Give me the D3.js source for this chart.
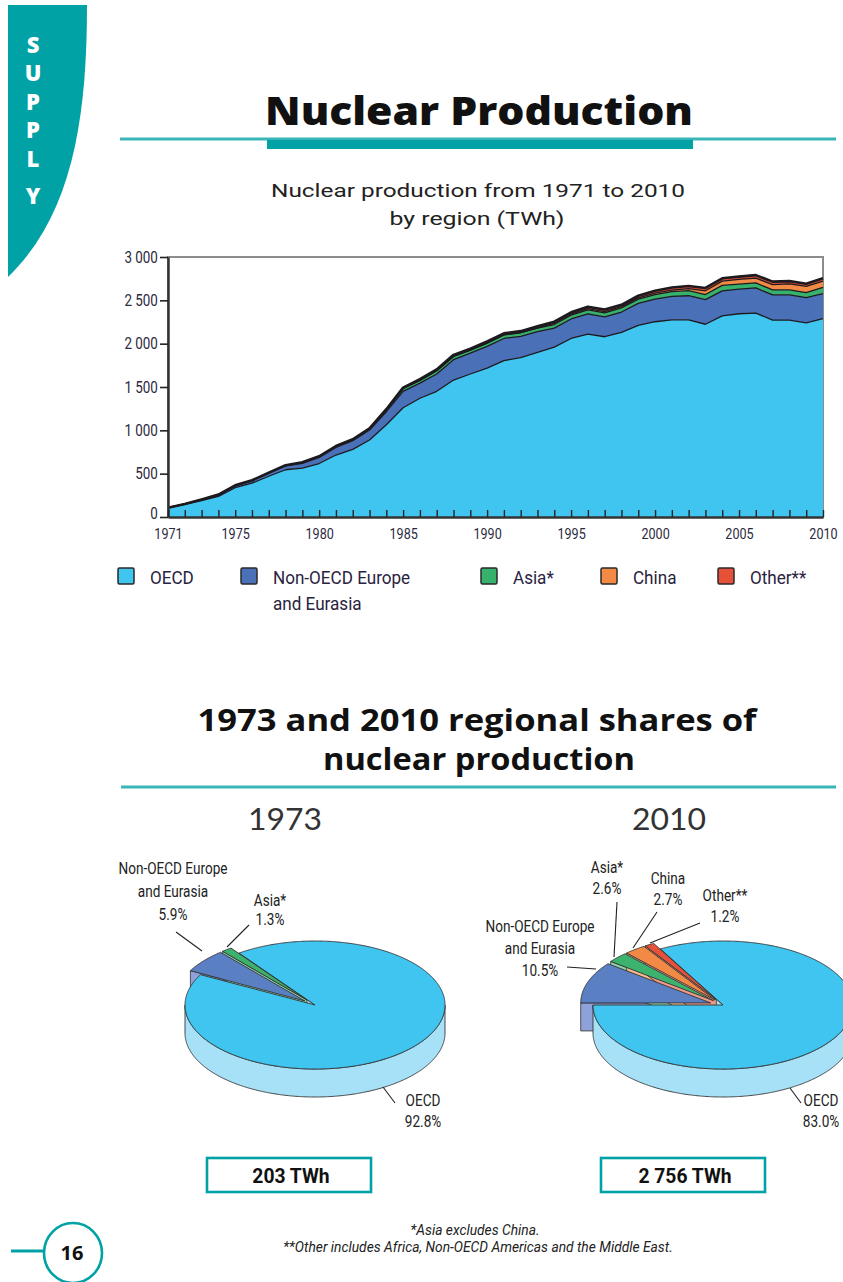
<!DOCTYPE html>
<html>
<head>
<meta charset="utf-8">
<script src="https://cdn.jsdelivr.net/npm/d3@7/dist/d3.min.js"></script>
<style>
  html, body { margin: 0; padding: 0; background: #ffffff; }
  svg { display: block; }
</style>
</head>
<body>
<svg id="page" width="843" height="1282"></svg>
<script>
// ---------- data ----------
const years = [1971,1972,1973,1974,1975,1976,1977,1978,1979,1980,
               1981,1982,1983,1984,1985,1986,1987,1988,1989,1990,
               1991,1992,1993,1994,1995,1996,1997,1998,1999,2000,
               2001,2002,2003,2004,2005,2006,2007,2008,2009,2010];

// TWh by region
const oecd = [104,145,188,238,338,390,470,545,565,617,
              715,780,888,1065,1260,1370,1450,1580,1650,1718,
              1805,1840,1900,1960,2060,2110,2080,2130,2210,2253,
              2275,2275,2224,2320,2345,2353,2272,2272,2240,2288];
const nonOecdEurope = [3,5,12,16,22,28,36,44,55,70,
                       88,100,115,150,190,175,200,235,240,250,
                       255,245,240,220,225,235,230,235,255,262,
                       270,278,285,290,285,290,290,292,290,289];
const asia = [0.3,1,2.6,2.5,2.5,3,3,6,9,11,
              13,14,15,23,33,32,38,37,35,38,
              41,41,40,41,43,45,46,48,49,52,
              55,58,58,62,58,58,58,57,60,72];
const china = [0,0,0,0,0,0,0,0,0,0,
               0,0,0,0,0,0,0,0,0,0,
               0,0.5,2.5,14,13,14,14,14,15,17,
               17.5,25,43,50,53,55,62,68,70,74];
const other = [0,0,0,1.7,2.5,2.5,2.5,3,2.8,2.2,
               2.6,2.5,4,6,10,13,14,19,18,19,
               18,18,19,19,21,23,25,21,24,26,
               30,30,33,32,33,35,34,33,31,33];

const seriesKeys = ["oecd", "nonOecdEurope", "asia", "china", "other"];
const legendLabels = [["OECD"], ["Non-OECD Europe", "and Eurasia"], ["Asia*"], ["China"], ["Other**"]];

const yTicks = [0, 500, 1000, 1500, 2000, 2500, 3000];
const yTickLabels = ["0", "500", "1 000", "1 500", "2 000", "2 500", "3 000"];
const xTickLabels = [1971, 1975, 1980, 1985, 1990, 1995, 2000, 2005, 2010];

// regional shares (%)
const pieYears = ["1973", "2010"];
const shares1973 = [92.8, 5.9, 1.3, 0, 0];
const shares2010 = [83.0, 10.5, 2.6, 2.7, 1.2];
const pieTotals = ["203 TWh", "2 756 TWh"];
const pieNames = [["OECD"], ["Non-OECD Europe", "and Eurasia"], ["Asia*"], ["China"], ["Other**"]];

// ---------- styles ----------
const TEAL = "#00a2a6";
const TEAL_LIGHT = "#3ab6b8";
const areaColors = ["#3fc5f0", "#4a70b8", "#37b26c", "#f28a45", "#e6513a"];
const pieTop = ["#3fc5f0", "#5a7fc3", "#3bb36e", "#f28a45", "#e6513a"];
const pieSide = ["#a6e1f7", "#8ea1d8", "#8fd3a9", "#f7b98e", "#f09a88"];
const INK = "#231f2e";
const SANS = "'Open Sans', 'Noto Sans', sans-serif";
const GEO = "Roboto, 'Noto Sans', sans-serif";

const svg = d3.select("#page");

// condensed-looking text: horizontally scaled glyphs
function ctext(parent, x, y, str, o = {}) {
  const sx = o.sx ?? 0.84;
  return parent.append("text")
    .attr("transform", `translate(${x},${y}) scale(${sx},1)`)
    .attr("text-anchor", o.anchor || "middle")
    .attr("font-family", o.family || GEO)
    .attr("font-size", o.size || 16)
    .attr("font-weight", o.weight || 400)
    .attr("font-style", o.style || "normal")
    .attr("fill", o.fill || INK)
    .text(str);
}

// text stretched/shrunk to a fixed width
function fitText(parent, x, y, str, width, o = {}) {
  return parent.append("text")
    .attr("x", x).attr("y", y)
    .attr("text-anchor", o.anchor || "middle")
    .attr("font-family", o.family || SANS)
    .attr("font-size", o.size || 20)
    .attr("font-weight", o.weight || 400)
    .attr("font-style", o.style || "normal")
    .attr("fill", o.fill || INK)
    .attr("textLength", width).attr("lengthAdjust", "spacingAndGlyphs")
    .text(str);
}

// ---------- side tab ----------
svg.append("path")
  .attr("d", "M8,5 H87 C87,120 72,215 8,277 Z")
  .attr("fill", TEAL);
const tabLetters = ["S", "U", "P", "P", "L", "Y"];
const tabY = [53, 81, 110, 138, 167, 204];
tabLetters.forEach((ch, i) => {
  svg.append("text").attr("x", 33).attr("y", tabY[i])
    .attr("text-anchor", "middle")
    .attr("font-family", SANS).attr("font-weight", 800).attr("font-size", 22)
    .attr("fill", "#ffffff").text(ch);
});

// ---------- page title ----------
fitText(svg, 479, 125, "Nuclear Production", 428, { size: 38, weight: 800, fill: "#111" });
svg.append("line").attr("x1", 120).attr("x2", 836).attr("y1", 139).attr("y2", 139)
  .attr("stroke", TEAL_LIGHT).attr("stroke-width", 3);
svg.append("rect").attr("x", 267).attr("y", 140).attr("width", 426).attr("height", 9).attr("fill", TEAL);

fitText(svg, 478, 197, "Nuclear production from 1971 to 2010", 414, { size: 19, fill: "#222", family: GEO });
fitText(svg, 477, 225, "by region (TWh)", 175, { size: 19, fill: "#222", family: GEO });

// ---------- stacked area chart ----------
const plot = { left: 168, right: 823, top: 257, bottom: 517 };
const x = d3.scaleLinear().domain([years[0], years[years.length - 1]]).range([plot.left, plot.right]);
const y = d3.scaleLinear().domain([0, 3000]).range([plot.bottom, plot.top]);

const rows = years.map((yr, i) => ({
  year: yr, oecd: oecd[i], nonOecdEurope: nonOecdEurope[i], asia: asia[i], china: china[i], other: other[i]
}));
const stacked = d3.stack().keys(seriesKeys)(rows);

const chart = svg.append("g");
// frame
chart.append("rect")
  .attr("x", plot.left).attr("y", plot.top)
  .attr("width", plot.right - plot.left).attr("height", plot.bottom - plot.top)
  .attr("fill", "none").attr("stroke", "#8c8c8c").attr("stroke-width", 2);

const area = d3.area().x(d => x(d.data.year)).y0(d => y(d[0])).y1(d => y(d[1]));
const topLine = d3.line().x(d => x(d.data.year)).y(d => y(d[1]));

chart.selectAll("path.layer").data(stacked).join("path")
  .attr("class", "layer")
  .attr("d", area)
  .attr("fill", (d, i) => areaColors[i]);
chart.selectAll("path.edge").data(stacked).join("path")
  .attr("class", "edge")
  .attr("d", topLine)
  .attr("fill", "none")
  .attr("stroke", "#1d1a1f")
  .attr("stroke-width", (d, i) => i === stacked.length - 1 ? 2.6 : 1.3)
  .attr("stroke-linejoin", "round");

// y axis
const yAxis = chart.append("g").attr("transform", `translate(${plot.left},0)`)
  .call(d3.axisLeft(y).tickValues(yTicks).tickFormat((d, i) => yTickLabels[i]).tickSize(8).tickSizeOuter(0).tickPadding(4));
yAxis.select(".domain").attr("stroke", "#333").attr("stroke-width", 2.5);
yAxis.selectAll(".tick line").attr("stroke", "#222").attr("stroke-width", 1.6);
yAxis.selectAll(".tick text")
  .attr("font-family", GEO).attr("font-size", 16).attr("fill", "#2c2a3e")
  .attr("transform", "scale(0.84,1)");
// keep the zero label clear of the first year label
yAxis.selectAll(".tick").filter(d => d === 0).select("text").attr("dy", "0.12em");

// x axis (ticks point into the plot)
const xAxis = chart.append("g").attr("transform", `translate(0,${plot.bottom})`)
  .call(d3.axisBottom(x).tickValues(years)
    .tickFormat(d => xTickLabels.includes(d) ? d : "")
    .tickSize(-7).tickSizeOuter(0).tickPadding(11));
xAxis.select(".domain").attr("stroke", "#333").attr("stroke-width", 2.5);
xAxis.selectAll(".tick line").attr("stroke", "#222").attr("stroke-width", 1.4);
xAxis.selectAll(".tick text")
  .attr("font-family", GEO).attr("font-size", 15).attr("fill", "#2c2a3e")
  .attr("transform", "scale(0.84,1)");

// legend
const legendX = [118, 241, 481, 601, 718];
const legend = svg.append("g");
seriesKeys.forEach((k, i) => {
  legend.append("rect").attr("x", legendX[i]).attr("y", 568).attr("width", 16).attr("height", 16)
    .attr("rx", 1.5).attr("fill", areaColors[i]).attr("stroke", "#2a2a2a").attr("stroke-width", 1.5);
  legendLabels[i].forEach((ln, j) => {
    ctext(legend, legendX[i] + 32, 584 + j * 26, ln, { size: 19, sx: 0.9, anchor: "start", fill: "#2a2340" });
  });
});

// ---------- shares section ----------
fitText(svg, 477, 731, "1973 and 2010 regional shares of", 559, { size: 30, weight: 700, fill: "#111" });
fitText(svg, 479, 770, "nuclear production", 312, { size: 30, weight: 700, fill: "#111" });
svg.append("line").attr("x1", 121).attr("x2", 836).attr("y1", 787).attr("y2", 787)
  .attr("stroke", TEAL_LIGHT).attr("stroke-width", 3);

const pieCenters = [315, 723];
const pieStart = [324.2, 331.2];
pieYears.forEach((t, i) => {
  fitText(svg, [285, 669][i], 830, t, 74, { size: 30, weight: 400, fill: "#333", family: "Lato, 'Open Sans', sans-serif" });
});

function drawPie(g, shares, opt) {
  const { cx, cy, rx, ry, depth, start, explode } = opt;
  const a0 = start * Math.PI / 180;
  const arcs = d3.pie().sort(null).value(d => d.v).startAngle(a0).endAngle(a0 + 2 * Math.PI)(
    shares.map((v, i) => ({ v, i }))
  ).filter(a => a.data.v > 0);

  arcs.forEach(a => {
    const mid = (a.startAngle + a.endAngle) / 2;
    const d = a.data.i === 0 ? 0 : explode;
    a.ox = d * Math.sin(mid);
    a.oy = -d * Math.cos(mid) * ry / rx;
    const n = Math.max(2, Math.ceil((a.endAngle - a.startAngle) / (Math.PI / 360)));
    a.samples = d3.range(n + 1).map(j => a.startAngle + (a.endAngle - a.startAngle) * j / n);
  });
  const P = (a, s, dz) => [cx + a.ox + rx * Math.sin(s), cy + a.oy - ry * Math.cos(s) + dz];
  const C = (a, dz) => [cx + a.ox, cy + a.oy + dz];
  const poly = pts => "M" + pts.map(p => p[0].toFixed(2) + "," + p[1].toFixed(2)).join("L") + "Z";

  // radial side faces
  arcs.forEach(a => {
    const faces = [];
    if (Math.sin(a.startAngle) < 0) faces.push(a.startAngle);
    if (Math.sin(a.endAngle) > 0) faces.push(a.endAngle);
    faces.forEach(s => {
      g.append("path")
        .attr("d", poly([C(a, 0), P(a, s, 0), P(a, s, depth), C(a, depth)]))
        .attr("fill", pieSide[a.data.i]).attr("stroke", "#333").attr("stroke-width", 0.8)
        .attr("stroke-linejoin", "round");
    });
  });
  // outer walls (front half only)
  arcs.forEach(a => {
    let run = [];
    const flush = () => {
      if (run.length > 1) {
        const topPts = run.map(s => P(a, s, 0));
        const botPts = run.slice().reverse().map(s => P(a, s, depth));
        g.append("path").attr("d", poly(topPts.concat(botPts)))
          .attr("fill", pieSide[a.data.i]).attr("stroke", "#333").attr("stroke-width", 0.9)
          .attr("stroke-linejoin", "round");
      }
      run = [];
    };
    a.samples.forEach(s => { if (Math.cos(s) <= 0.001) run.push(s); else flush(); });
    flush();
  });
  // top faces
  arcs.forEach(a => {
    g.append("path")
      .attr("d", poly([C(a, 0)].concat(a.samples.map(s => P(a, s, 0)))))
      .attr("fill", pieTop[a.data.i]).attr("stroke", "#333").attr("stroke-width", 0.9)
      .attr("stroke-linejoin", "round");
  });
  return arcs;
}

const pies = svg.append("g");
const pieOpts = { cy: 1005, rx: 130, ry: 64, depth: 28, explode: 13 };
drawPie(pies, shares1973, Object.assign({ cx: pieCenters[0], start: pieStart[0] }, pieOpts));
drawPie(pies, shares2010, Object.assign({ cx: pieCenters[1], start: pieStart[1] }, pieOpts));

// pie labels with leader lines
const fmtPct = v => v.toFixed(1) + "%";
const labelLayout = [
  // 1973
  { pie: 0, idx: 1, x: 173, y: 874, lh: 23, leader: [[176, 932], [202, 951]] },
  { pie: 0, idx: 2, x: 270, y: 906, lh: 19, leader: [[249, 925], [227, 947]] },
  { pie: 0, idx: 0, x: 423, y: 1106, lh: 21, leader: [[395, 1103], [383, 1087]] },
  // 2010
  { pie: 1, idx: 1, x: 540, y: 932, lh: 22, leader: [[567, 967], [596, 969]] },
  { pie: 1, idx: 2, x: 607, y: 873, lh: 21, leader: [[617, 902], [614, 957]] },
  { pie: 1, idx: 3, x: 668, y: 884, lh: 21, leader: [[657, 912], [633, 948]] },
  { pie: 1, idx: 4, x: 725, y: 901, lh: 21, leader: [[700, 923], [650, 943]] },
  { pie: 1, idx: 0, x: 821, y: 1106, lh: 21, leader: [[801, 1103], [790, 1088]] }
];
const shareSets = [shares1973, shares2010];
const labels = svg.append("g");
labelLayout.forEach(L => {
  labels.append("path")
    .attr("d", d3.line()(L.leader))
    .attr("fill", "none").attr("stroke", "#222").attr("stroke-width", 1.1);
  const lines = pieNames[L.idx].concat([fmtPct(shareSets[L.pie][L.idx])]);
  lines.forEach((ln, j) => {
    ctext(labels, L.x, L.y + j * L.lh, ln, { size: 17, sx: 0.8, fill: "#222" });
  });
});

// totals boxes
const boxX = [207, 601];
pieTotals.forEach((t, i) => {
  svg.append("rect").attr("x", boxX[i]).attr("y", 1158).attr("width", 164).attr("height", 34)
    .attr("fill", "#fff").attr("stroke", TEAL).attr("stroke-width", 2.6);
  ctext(svg, boxX[i] + 84, 1183, t, { size: 21, sx: 0.92, weight: 700, fill: "#111" });
});

// footnotes
ctext(svg, 475, 1235, "*Asia excludes China.", { size: 15, sx: 0.92, style: "italic", fill: "#222" });
ctext(svg, 478, 1252, "**Other includes Africa, Non-OECD Americas and the Middle East.", { size: 15, sx: 0.92, style: "italic", fill: "#222" });

// page number
svg.append("line").attr("x1", 11).attr("x2", 44).attr("y1", 1251).attr("y2", 1251)
  .attr("stroke", TEAL).attr("stroke-width", 3);
svg.append("ellipse").attr("cx", 73).attr("cy", 1253).attr("rx", 29).attr("ry", 30)
  .attr("fill", "#fff").attr("stroke", TEAL).attr("stroke-width", 2.6);
svg.append("text").attr("x", 72).attr("y", 1260).attr("text-anchor", "middle")
  .attr("font-family", SANS).attr("font-weight", 700).attr("font-size", 20).attr("fill", "#111").text("16");
</script>
</body>
</html>
